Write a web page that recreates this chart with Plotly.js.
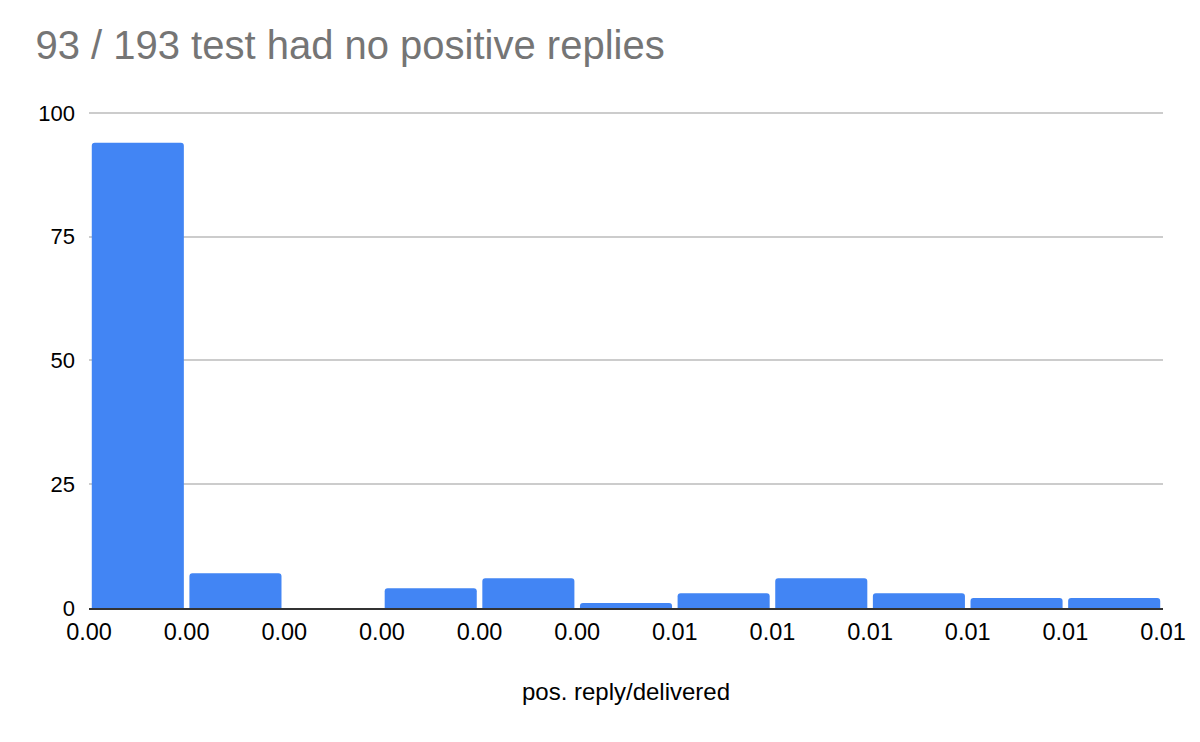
<!DOCTYPE html>
<html><head><meta charset="utf-8">
<script src="https://cdn.plot.ly/plotly-3.0.1.min.js"></script>
<style>html,body{margin:0;padding:0;background:#fff}</style></head>
<body><div id="c" style="width:1200px;height:742px"></div>
<script>
const binStarts = [0,1,2,3,4,5,6,7,8,9,10];
const counts = [94,7,0,4,6,1,3,6,3,2,2];
const tickPositions = [-0.5,0.5,1.5,2.5,3.5,4.5,5.5,6.5,7.5,8.5,9.5,10.5];
const tickLabels = ['0.00','0.00','0.00','0.00','0.00','0.00','0.01','0.01','0.01','0.01','0.01','0.01'];
const yTicks = [0,25,50,75,100];
Plotly.newPlot('c',[{
  type:'bar',x:binStarts,y:counts,width:0.943,
  marker:{color:'#4285f4',cornerradius:3,line:{width:0}}
}],{
  width:1200,height:742,showlegend:false,
  paper_bgcolor:'#fff',plot_bgcolor:'#fff',
  font:{family:'Liberation Sans, Arial, sans-serif',color:'#000',size:22},
  title:{text:'93 / 193 test had no positive replies',xref:'container',x:0.0295,xanchor:'left',yref:'container',y:0.94,yanchor:'middle',
    font:{size:40,color:'#757575',family:'Liberation Sans, Arial, sans-serif'}},
  margin:{l:89,r:37,t:110.5,b:133.5,pad:0},
  xaxis:{range:[-0.5,10.5],tickmode:'array',tickvals:tickPositions,ticktext:tickLabels,
    showgrid:false,zeroline:false,showline:true,linecolor:'#333',linewidth:2,ticks:'',
    ticklabelstandoff:2,tickfont:{size:23.5,color:'#000'},
    title:{text:'pos. reply/delivered',standoff:39,font:{size:24,color:'#000'}}},
  yaxis:{range:[0,100.4],tickmode:'array',tickvals:yTicks,ticktext:yTicks.map(String),
    showgrid:true,gridcolor:'#cccccc',gridwidth:2,zeroline:false,showline:false,ticks:'',
    ticklabelstandoff:13,tickfont:{size:22,color:'#000'}},
},{displayModeBar:false,staticPlot:true});
</script></body></html>
